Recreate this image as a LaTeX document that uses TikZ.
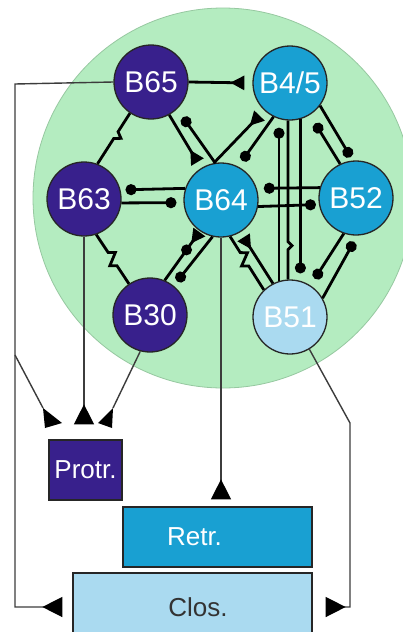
\documentclass[tikz,border=0pt]{standalone}
\usepackage{fontspec}
\setmainfont{Liberation Sans}
\usetikzlibrary{arrows.meta,decorations.pathmorphing,calc}
\definecolor{npurple}{RGB}{56,32,140}
\definecolor{nblue}{RGB}{25,160,210}
\definecolor{nlight}{RGB}{170,218,240}
\definecolor{bggreen}{RGB}{180,236,192}
\definecolor{bgedge}{RGB}{150,200,160}
\definecolor{extline}{RGB}{60,60,60}
\begin{document}
\begin{tikzpicture}[x=1pt,y=-1pt,
  cell/.style={circle,minimum size=74pt,inner sep=0pt,draw=black!85,line width=1.3pt,text=white,font=\fontsize{30}{31}\selectfont},
  pcell/.style={cell,fill=npurple},
  bcell/.style={cell,fill=nblue},
  lcell/.style={cell,fill=nlight},
  box/.style={rectangle,draw=black!85,line width=1.3pt,inner sep=0pt,text=white,font=\fontsize{26}{28}\selectfont},
  link/.style={line width=2.8pt,black},
  act/.style={link,-{Triangle[reversed,length=14pt,width=14pt]}},
  inh/.style={link,-{Circle[length=11pt]}},
  gap/.style n args={3}{link,decorate,decoration={zigzag,segment length=16pt,amplitude=#3,pre length=#1,post length=#2}},
  ball/.style={circle,fill=black,inner sep=0pt,minimum size=11pt},
  ext/.style={line width=1.4pt,extline},
  extact/.style={ext,-{Triangle[reversed,length=20pt,width=20pt,color=black]}},
]
\useasboundingbox (0,0) rectangle (403,632);
\fill[white] (0,0) rectangle (403,632);
\fill[bggreen,draw=bgedge,line width=0.8pt] (223,198) circle[radius=190pt];

% cells
\node[pcell] (B65) at (151,82) {B65};
\node[bcell] (B45) at (290,83) {B4/5};
\node[pcell] (B63) at (84,199) {B63};
\node[bcell] (B64) at (221,200) {B64};
\node[bcell] (B52) at (356,198) {B52};
\node[pcell] (B30) at (150,315) {B30};
\node[lcell] (B51) at (290,317) {B51};

% output boxes
\node[box,fill=npurple,minimum width=73pt,minimum height=60pt] (Protr) at (85.5,470) {Protr.};
\node[box,fill=nblue,minimum width=189pt,minimum height=60pt] (Retr) at (217.5,537) {Retr.\hspace*{46pt}};
\node[box,fill=nlight,text=black!80,minimum width=239pt,minimum height=68pt] (Clos) at (192.5,607) {\hspace*{11pt}Clos.};

% internal synapses
\draw[act,shorten >=8pt] (B65.east) -- (B45.west);
\draw[act,shorten >=7pt] (B65.-61) -- (B64.122);
\draw[inh,shorten >=10pt] (B64.99) -- (B65.-46);
\draw[act,shorten >=7pt] (B64.101) -- (B45.-133);
\draw[inh,shorten >=7pt] (B45.-116) -- (B64.63);
\draw[inh,shorten >=4pt] (B45.-37) -- (B52.95);
\draw[inh,shorten >=10pt] (B52.115) -- (B45.-58);
\draw[inh,shorten >=5pt] (B64.162) -- (B63.14);
\draw[inh,shorten >=7pt] (B63.-6) -- (B64.-176);
\draw[inh,shorten >=7pt] (B52.164) -- (B64.18);
\draw[inh,shorten >=3pt] (B64.-10) -- (B52.-170);
\draw[inh,shorten >=8.7pt] (B51.107.3) -- (B45.-107.3);
\draw[gap={121pt}{22pt}{4pt}] (B45.-93) -- (B51.93);
\draw[inh,shorten >=7.4pt] (B45.-74.3) -- (B51.74.3);
\draw[inh,shorten >=8pt] (B52.-109) -- (B51.57);
\draw[inh,shorten >=7pt] (B51.30) -- (B52.-88);
\draw[gap={19pt}{28pt}{6pt}] (B64.-76) -- (B51.134);
\draw[act,shorten >=6pt] (B51.117) -- (B64.-59);
\draw[gap={22pt}{22.5pt}{6pt}] (B65.-124) -- (B63.69);
\draw[gap={21.5pt}{21.5pt}{6pt}] (B63.-71) -- (B30.124);
\draw[act,shorten >=1pt] (B30.67) -- node[ball,pos=0.62] (sball) {} (B64.-124);
\draw[inh,shorten >=5.6pt] (B64.-103) -- (B30.51);

% external connections
\coordinate (L1) at (15,84);
\coordinate (L2) at (15,607);
\coordinate (Lb) at (15,355);
\coordinate (pl) at (43,408);
\coordinate (pr) at (113,408);
\coordinate (R1) at (350,423);
\coordinate (R2) at (350,607);
\draw[extact,shorten >=10pt] (B65.west) -- (L1) -- (L2) -- (Clos.west);
\draw[ext] (Lb) -- (pl);
\fill[black] (pl) -- (45,428) -- (62,423) -- cycle;
\draw[extact,shorten >=15pt] (B63.south) -- (B63.south |- Protr.north);
\draw[ext] (B30.-105) -- (pr);
\fill[black] (pr) -- (112,428) -- (98,423) -- cycle;
\draw[extact,shorten >=7pt] (B64.south) -- (B64.south |- Retr.north);
\draw[extact,shorten >=13pt] (B51.-59) -- (R1) -- (R2) -- (Clos.east);
\end{tikzpicture}
\end{document}
